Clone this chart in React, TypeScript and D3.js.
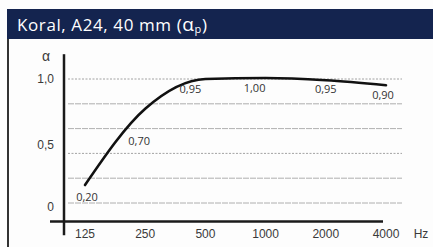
import React, { useEffect } from "react";
import * as d3 from "d3";

const frequencies = ["125", "250", "500", "1000", "2000", "4000"];
const curveValues = [0.145, 0.76, 1.0, 1.008, 0.99, 0.95];
const annotationLabels = ["0,20", "0,70", "0,95", "1,00", "0,95", "0,90"];
const gridValues = [1.0, 0.8, 0.6, 0.4, 0.2, 0.0];
const yTickValues = [1.0, 0.5, 0];
const yTickLabels = ["1,0", "0,5", "0"];
const title = "Koral, A24, 40 mm (";

const W = 433;
const H = 247;

export default function App() {
  useEffect(() => {
    document.body.style.margin = "0";
  }, []);

  const x = d3.scalePoint<string>().domain(frequencies).range([85, 386]);
  const y = d3.scaleLinear().domain([0, 1]).range([203, 79]);

  const line = d3
    .line<number>()
    .x((_, i) => x(frequencies[i]) as number)
    .y((d) => y(d))
    .curve(d3.curveMonotoneX);

  const axisY = y(-0.15);
  const tickFont = "'Liberation Sans', Arial, sans-serif";

  const annDx = (i: number) => (i === 0 ? 2 : i === 1 ? -6 : i === 2 ? -15 : i === 3 ? -11 : i === 4 ? 0 : -3);
  const annDy = (i: number) => (i === 0 ? 16 : i === 1 ? 36 : i === 3 ? 14 : i === 4 ? 13 : 14);

  return (
    <svg width={W} height={H} style={{ position: "absolute", left: 0, top: 0 }}>
      <rect x={0} y={0} width={W} height={H} fill="#fdfdfd" />
      <rect x={7} y={9} width={W - 7} height={30} fill="#14244f" />
      <text
        x={17}
        y={31}
        fill="#ffffff"
        fontFamily="'Open Sans', sans-serif"
        fontSize={17}
        letterSpacing={0.6}
      >
        {title}
        <tspan fontSize={19}>α</tspan>
        <tspan fontSize={11} dy={2}>p</tspan>
        <tspan dy={-2}>)</tspan>
      </text>
      <line x1={8} x2={8} y1={39} y2={H} stroke="#333" strokeWidth={2} />

      {gridValues.map((g, i) => (
        <line
          key={i}
          x1={68}
          x2={402}
          y1={y(g)}
          y2={y(g)}
          stroke={i % 3 === 0 ? "#8a8a8a" : "#9a9a9a"}
          strokeWidth={0.8}
          strokeDasharray={i % 3 === 0 ? "2,1.5" : "6,1"}
        />
      ))}

      <line x1={64} x2={64} y1={y(1.2)} y2={y(-0.26)} stroke="#1a1a1a" strokeWidth={2.5} />
      <line x1={50} x2={383} y1={axisY} y2={axisY} stroke="#1a1a1a" strokeWidth={2.5} />

      <text x={46} y={61} fill="#3a3a3a" fontFamily={tickFont} fontSize={14} textAnchor="middle">
        α
      </text>
      {yTickValues.map((v, i) => (
        <text
          key={i}
          x={54}
          y={y(v) + 4 + (v === 0 ? 4 : v === 0.5 ? 4 : 0)}
          fill="#3a3a3a"
          fontFamily={tickFont}
          fontSize={12}
          textAnchor="end"
        >
          {yTickLabels[i]}
        </text>
      ))}

      {frequencies.map((f) => (
        <text
          key={f}
          x={x(f) as number}
          y={238}
          fill="#3a3a3a"
          fontFamily={tickFont}
          fontSize={12}
          textAnchor="middle"
        >
          {f}
        </text>
      ))}
      <text x={421} y={238} fill="#3a3a3a" fontFamily={tickFont} fontSize={12} textAnchor="middle">
        Hz
      </text>

      <path d={line(curveValues) || ""} fill="none" stroke="#111" strokeWidth={2.6} strokeLinecap="round" />

      {annotationLabels.map((lab, i) => (
        <text
          key={i}
          x={(x(frequencies[i]) as number) + annDx(i)}
          y={y(curveValues[i]) + annDy(i)}
          fill="#333"
          fontFamily="'Open Sans', sans-serif"
          fontSize={11}
          textAnchor="middle"
        >
          {lab}
        </text>
      ))}
    </svg>
  );
}
